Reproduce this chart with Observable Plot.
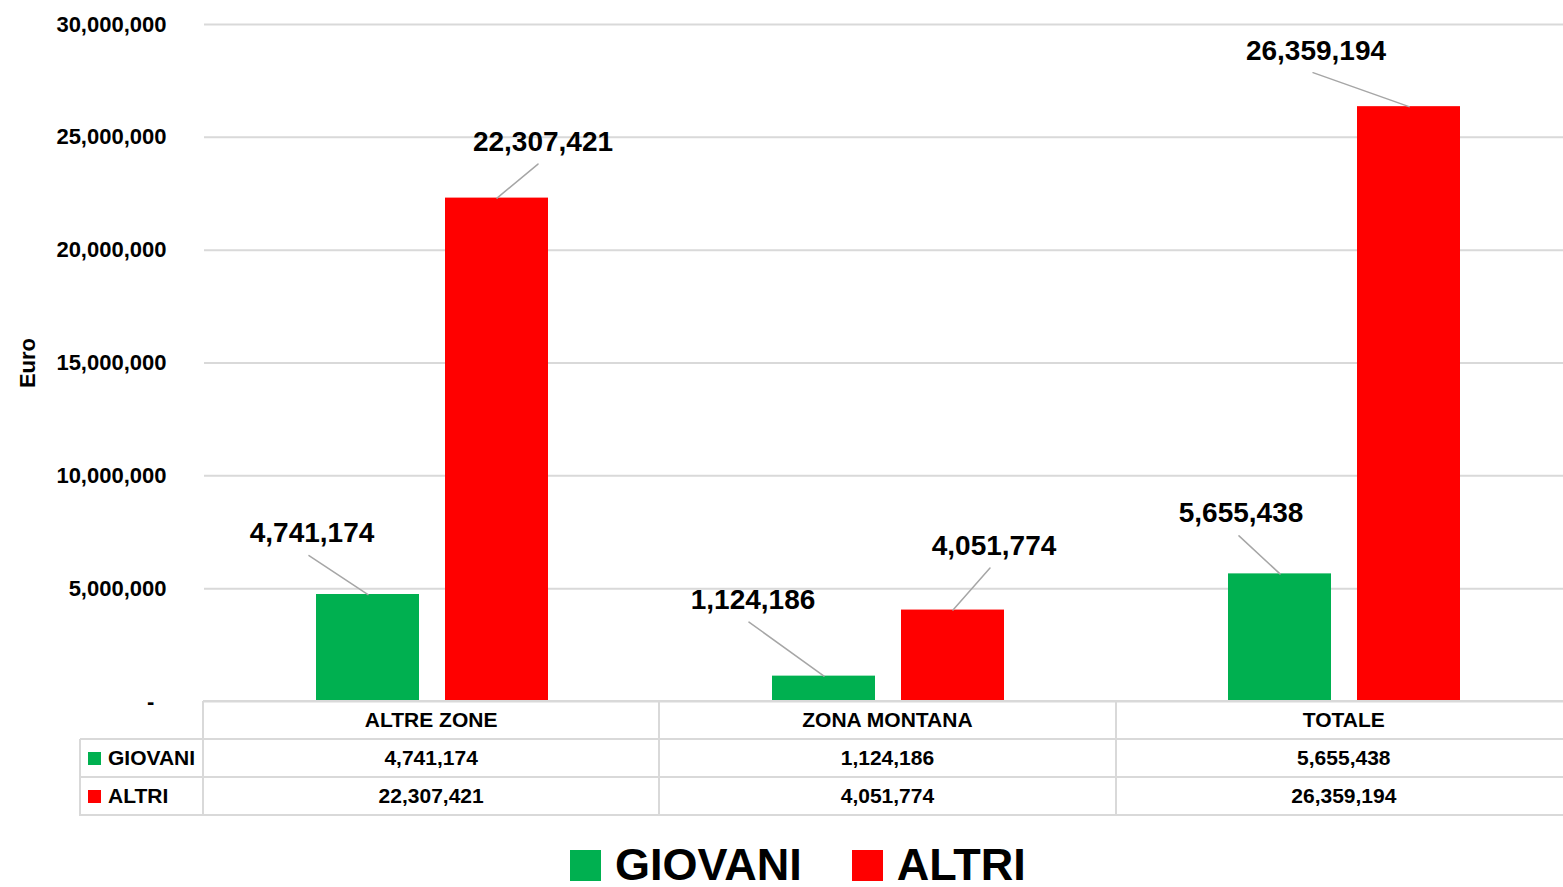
<!DOCTYPE html>
<html><head><meta charset="utf-8">
<script src="https://cdn.jsdelivr.net/npm/d3@7"></script>
<script src="https://cdn.jsdelivr.net/npm/@observablehq/plot@0.6"></script>
<style>
html,body{margin:0;padding:0;background:#fff;overflow:hidden;width:1563px;height:887px}
body{font-family:"Liberation Sans",Arial,sans-serif;font-weight:bold;color:#000;position:relative}
#chart{position:absolute;left:0;top:0;width:1563px;height:720px;overflow:hidden}
#chart svg{max-width:none !important;overflow:visible}
.cell{position:absolute;box-sizing:border-box;display:flex;align-items:center;justify-content:center;font-size:21px;white-space:nowrap}
.hl{position:absolute;height:2px;background:#d9d9d9}
.vl{position:absolute;width:2px;background:#d9d9d9}
.key{display:inline-block;width:13px;height:13px;margin-right:7px}
#legend{position:absolute;top:845px;left:570px;display:flex;align-items:center;font-size:45px;line-height:40px;height:40px}
#legend .sw{width:31px;height:31px;display:inline-block;margin-right:14px}
#legend .item{display:flex;align-items:center;margin-right:50px}
</style></head><body>
<div id="chart"></div><div id="table"></div><div id="legend"></div>
<script>
const categories = ["ALTRE ZONE", "ZONA MONTANA", "TOTALE"];
const seriesNames = ["GIOVANI", "ALTRI"];
const giovani = [4741174, 1124186, 5655438];
const altri = [22307421, 4051774, 26359194];
const seriesColors = ["#00b050", "#ff0000"];
const yTicks = [0, 5000000, 10000000, 15000000, 20000000, 25000000, 30000000];
// callout offsets in pixels from the bar-top centre: label centre and leader-line start
const labelOffsets = [[-56,-61],[46,-56],[-71,-76],[41,-64],[-39,-61],[-93,-56]];
const leaderOffsets = [[-59,-39],[41,-34],[-75,-54],[37,-42],[-41,-38],[-96,-34]];

const fmt = d3.format(",");
const rows = [];
categories.forEach((c, i) => {
  rows.push({category: c, series: "GIOVANI", value: giovani[i]});
  rows.push({category: c, series: "ALTRI", value: altri[i]});
});
rows.forEach((r, k) => {
  const [ldx, ldy] = leaderOffsets[k];
  r.len = Math.hypot(ldx, ldy);
  r.angle = Math.atan2(ldx, -ldy) * 180 / Math.PI;
});

const lineShape = {draw(ctx, l) { ctx.moveTo(0, 0); ctx.lineTo(0, -l); }};

const labelMarks = rows.map((r, k) => Plot.text([r], {
  fx: "category", x: "series", y: "value", text: d => fmt(d.value),
  dx: labelOffsets[k][0], dy: labelOffsets[k][1], lineAnchor: "middle",
  fontSize: 28, fontWeight: "bold", fill: "#000"
}));

const chart = Plot.plot({
  width: 1572, height: 702,
  marginLeft: 203, marginRight: 0, marginTop: 24, marginBottom: 1,
  style: {fontFamily: "'Liberation Sans', Arial, sans-serif", fontSize: "22px", fontWeight: "bold", color: "#000", background: "transparent", maxWidth: "none", overflow: "visible"},
  fx: {domain: categories, padding: 0, axis: null},
  x: {domain: seriesNames, paddingInner: 0.2, paddingOuter: 0.855, axis: null},
  y: {domain: [0, 30000000], ticks: yTicks, tickFormat: d => d === 0 ? "-\u00a0\u00a0" : fmt(d),
      tickSize: 0, tickPadding: 38, label: "Euro", labelAnchor: "center", labelOffset: 185, labelArrow: "none"},
  color: {domain: seriesNames, range: seriesColors},
  length: {type: "identity"},
  marks: [
    Plot.ruleY(yTicks, {stroke: "#d9d9d9", strokeWidth: 2}),
    Plot.barY(rows, {fx: "category", x: "series", y: "value", fill: "series"}),
    Plot.vector(rows, {fx: "category", x: "series", y: "value", length: "len", rotate: "angle",
      anchor: "start", shape: lineShape, stroke: "#a6a6a6", strokeWidth: 1.5}),
    ...labelMarks
  ]
});
document.getElementById("chart").append(chart);

// data table below the chart
const T = document.getElementById("table");
const colL = [203, 659.3, 1115.7], colW = 456.3;
const rowT = [701, 739, 777], rowH = 38;
function cell(x, y, w, h, html, extra) {
  const d = document.createElement("div"); d.className = "cell";
  Object.assign(d.style, {left: x + "px", top: y + "px", width: w + "px", height: h + "px"}, extra || {});
  d.innerHTML = html; T.append(d);
}
function hl(x, y, w) { const d = document.createElement("div"); d.className = "hl"; Object.assign(d.style, {left: x+"px", top: (y-1)+"px", width: w+"px"}); T.append(d); }
function vl(x, y, h) { const d = document.createElement("div"); d.className = "vl"; Object.assign(d.style, {left: (x-1)+"px", top: y+"px", height: h+"px"}); T.append(d); }
categories.forEach((c, i) => {
  cell(colL[i], rowT[0], colW, rowH, c);
  cell(colL[i], rowT[1], colW, rowH, fmt(giovani[i]));
  cell(colL[i], rowT[2], colW, rowH, fmt(altri[i]));
});
seriesNames.forEach((s, j) => {
  cell(80, rowT[j+1], 123, rowH, `<span class="key" style="background:${seriesColors[j]}"></span>${s}`, {justifyContent: "flex-start", paddingLeft: "8px"});
});
hl(203, 701, 1370); hl(80, 739, 1493); hl(80, 777, 1493); hl(80, 815, 1493);
vl(80, 739, 77); vl(203, 701, 115); vl(659.3, 701, 115); vl(1115.7, 701, 115);

// legend
const L = document.getElementById("legend");
seriesNames.forEach((s, j) => {
  const it = document.createElement("div"); it.className = "item";
  it.innerHTML = `<span class="sw" style="background:${seriesColors[j]}"></span><span>${s}</span>`;
  L.append(it);
});
</script>
</body></html>
